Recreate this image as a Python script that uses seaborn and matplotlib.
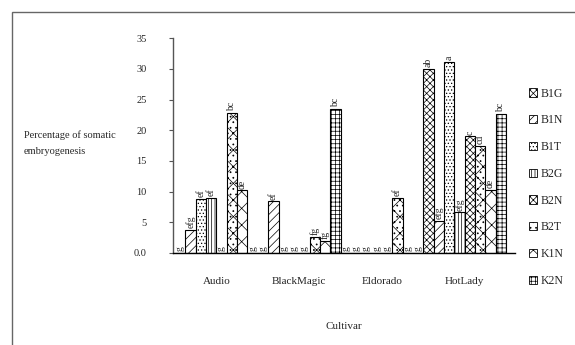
import numpy as np
import pandas as pd
import matplotlib
matplotlib.use('Agg')
import matplotlib.pyplot as plt
from matplotlib.patches import Patch, Rectangle
import seaborn as sns

cultivars = ['Audio', 'BlackMagic', 'Eldorado', 'HotLady']
treatments = ['B1G', 'B1N', 'B1T', 'B2G', 'B2N', 'B2T', 'K1N', 'K2N']

# percentage of somatic embryogenesis, one list per cultivar (treatment order)
audio = [0, 3.7, 8.8, 9.0, 0, 22.8, 10.2, 0]
blackmagic = [0, 8.4, 0, 0, 0, 2.6, 2.0, 23.5]
eldorado = [0, 0, 0, 0, 0, 9.0, 0, 0]
hotlady = [30.0, 5.2, 31.1, 6.6, 19.0, 17.4, 10.3, 22.7]

# mean separation letters
audio_lab = ['g', 'efg', 'ef', 'ef', 'g', 'bc', 'de', 'g']
blackmagic_lab = ['g', 'ef', 'g', 'g', 'g', 'fg', 'fg', 'bc']
eldorado_lab = ['g', 'g', 'g', 'g', 'g', 'ef', 'g', 'g']
hotlady_lab = ['ab', 'efg', 'a', 'efg', 'c', 'cd', 'de', 'bc']

hatches = ['xxxxx', '////', '.....', '|||||', 'xxxxx', '...xx', 'xx', '++++']

values = [audio, blackmagic, eldorado, hotlady]
letters = [audio_lab, blackmagic_lab, eldorado_lab, hotlady_lab]

rows = []
for c, vals in zip(cultivars, values):
  for t, v in zip(treatments, vals):
    rows.append({'Cultivar': c, 'Treatment': t, 'value': v})
df = pd.DataFrame(rows)

sns.set_style('white')
plt.rcParams['font.family'] = ['Liberation Serif', 'DejaVu Serif']
plt.rcParams['hatch.linewidth'] = 0.5

fig = plt.figure(figsize=(5.75, 3.45), dpi=100)
ax = fig.add_axes([0.301, 0.267, 0.595, 0.622])

sns.barplot(data=df, x='Cultivar', y='value', hue='Treatment', order=cultivars,
            hue_order=treatments, palette=['white'] * 8, width=1.0, dodge=True,
            errorbar=None, edgecolor='black', linewidth=0.8, ax=ax, legend=False)

for ti, (container, h) in enumerate(zip(ax.containers, hatches)):
  for ci, bar in enumerate(container):
    bar.set_hatch(h)
    ax.text(bar.get_x() + bar.get_width() / 2, bar.get_height() + 0.3,
            letters[ci][ti], rotation=90, ha='center', va='bottom', fontsize=7)

ax.set_ylim(0, 35)
ax.set_xlim(-0.524, 3.61)
ax.set_yticks([0, 5, 10, 15, 20, 25, 30, 35])
ax.set_yticklabels(['0.0', '5', '10', '15', '20', '25', '30', '35'], fontsize=7.5)
ax.tick_params(axis='y', left=True, length=3, width=0.8, pad=16, color='#555555')
ax.tick_params(axis='x', bottom=False, pad=14)
for lab in ax.get_xticklabels():
  lab.set_fontsize(8)

sns.despine(ax=ax)
ax.spines['left'].set_color('#555555')
ax.spines['bottom'].set_color('black')
ax.spines['left'].set_linewidth(1.0)
ax.spines['bottom'].set_linewidth(1.0)

ax.set_xlabel('Cultivar', fontsize=8, labelpad=26)
ax.set_ylabel('Percentage of somatic\nembryogenesis', rotation=0, ha='left',
              va='center', fontsize=7.5, linespacing=2.0)
ax.yaxis.set_label_coords(-0.436, 0.513)

handles = [Patch(facecolor='white', edgecolor='black', hatch=h, linewidth=0.6)
           for h in hatches]
fig.legend(handles, treatments, loc='upper left', bbox_to_anchor=(0.912, 0.76),
           frameon=False, fontsize=8.5, handlelength=0.7, handleheight=0.7,
           handletextpad=0.3, labelspacing=1.25, borderaxespad=0)

fig.add_artist(Rectangle((12 / 575, -0.1), 1.2, 1.1 - 12 / 345, fill=False,
                         edgecolor='#666666', linewidth=1.0,
                         transform=fig.transFigure))

fig.savefig('out.png', dpi=100)
